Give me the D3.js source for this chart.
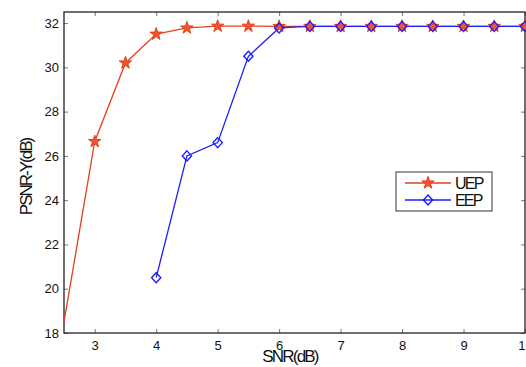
<!DOCTYPE html>
<html>
<head>
<meta charset="utf-8">
<script src="https://cdn.jsdelivr.net/npm/d3@7"></script>
<style>
  body { margin: 0; background: #fff; }
  text { font-family: "Liberation Sans", Arial, sans-serif; fill: #111; }
</style>
</head>
<body>
<svg id="chart" width="526" height="367"></svg>
<script>
// SNR values (dB)
const snr = [2.5, 3, 3.5, 4, 4.5, 5, 5.5, 6, 6.5, 7, 7.5, 8, 8.5, 9, 9.5, 10];
// PSNR-Y for each scheme
const uep = [18.5, 26.65, 30.2, 31.5, 31.78, 31.86, 31.86, 31.85, 31.85, 31.85, 31.85, 31.85, 31.85, 31.85, 31.85, 31.85];
const eepSnr = [4, 4.5, 5, 5.5, 6, 6.5, 7, 7.5, 8, 8.5, 9, 9.5, 10];
const eep = [20.5, 26.0, 26.6, 30.5, 31.78, 31.85, 31.85, 31.85, 31.85, 31.85, 31.85, 31.85, 31.85];
const xTicks = [3, 4, 5, 6, 7, 8, 9, 10];
const yTicks = [18, 20, 22, 24, 26, 28, 30, 32];

const plotL = 64, plotR = 525, plotT = 12, plotB = 333;
const red = "#e5401a", blue = "#1c1cff";

const svg = d3.select("#chart");
const x = d3.scaleLinear().domain([2.5, 10]).range([plotL, plotR]);
const y = d3.scaleLinear().domain([18, 32.5]).range([plotB, plotT]);

svg.append("defs").append("clipPath").attr("id", "plotclip")
  .append("rect").attr("x", plotL).attr("y", plotT)
  .attr("width", plotR - plotL).attr("height", plotB - plotT);

// axes with inward ticks
const tickStyle = (g) => {
  g.select(".domain").remove();
  g.selectAll(".tick line").attr("stroke", "#777").attr("stroke-width", 1);
  g.selectAll(".tick text").attr("font-size", 13).style("font-family", "Liberation Sans, Arial, sans-serif").attr("fill", "#111");
};
svg.append("g").attr("transform", `translate(0,${plotB})`)
  .call(d3.axisBottom(x).tickValues(xTicks).tickSize(-4).tickPadding(8).tickFormat(d3.format("d")))
  .call(tickStyle);
svg.append("g").attr("transform", `translate(0,${plotT})`)
  .call(d3.axisTop(x).tickValues(xTicks).tickSize(-4).tickFormat(""))
  .call(tickStyle);
svg.append("g").attr("transform", `translate(${plotL},0)`)
  .call(d3.axisLeft(y).tickValues(yTicks).tickSize(-4).tickPadding(5))
  .call(tickStyle);
svg.append("g").attr("transform", `translate(${plotR},0)`)
  .call(d3.axisRight(y).tickValues(yTicks).tickSize(-4).tickFormat(""))
  .call(tickStyle);

// frame
svg.append("rect").attr("x", plotL).attr("y", plotT)
  .attr("width", plotR - plotL).attr("height", plotB - plotT)
  .attr("fill", "none").attr("stroke", "#222").attr("stroke-width", 1.3);

const line = d3.line().x(d => x(d[0])).y(d => y(d[1]));
const uepData = snr.map((s, i) => [s, uep[i]]);
const eepData = eepSnr.map((s, i) => [s, eep[i]]);

const plot = svg.append("g").attr("clip-path", "url(#plotclip)");

const star = d3.symbol().type(d3.symbolStar).size(48);
const diamond = "M0,-5L4.6,0L0,5L-4.6,0Z";

plot.append("path").datum(uepData).attr("d", line)
  .attr("fill", "none").attr("stroke", red).attr("stroke-width", 1.3);
svg.selectAll(".uep").data(uepData.filter(d => d[0] > 2.5)).enter()
  .append("path").attr("class", "uep")
  .attr("transform", d => `translate(${x(d[0])},${y(d[1])})`)
  .attr("d", star)
  .attr("fill", "#ee5533").attr("stroke", red).attr("stroke-width", 1);

plot.append("path").datum(eepData).attr("d", line)
  .attr("fill", "none").attr("stroke", blue).attr("stroke-width", 1.3);
svg.selectAll(".eep").data(eepData).enter()
  .append("path").attr("class", "eep")
  .attr("transform", d => `translate(${x(d[0])},${y(d[1])})`)
  .attr("d", diamond)
  .attr("fill", "none").attr("stroke", blue).attr("stroke-width", 1.4);

// axis labels
svg.append("text").attr("x", 290).attr("y", 362)
  .attr("text-anchor", "middle").attr("font-size", 17)
  .attr("letter-spacing", -1.8).text("SNR(dB)");
svg.append("text").attr("transform", "translate(32,177) rotate(-90)")
  .attr("text-anchor", "middle").attr("font-size", 17)
  .attr("letter-spacing", -2).text("PSNR-Y(dB)");

// legend
const lg = svg.append("g").attr("transform", "translate(396,172)");
lg.append("rect").attr("width", 96).attr("height", 39)
  .attr("fill", "#fff").attr("stroke", "#333").attr("stroke-width", 1);
const items = [{ name: "UEP", color: red, sym: "star" }, { name: "EEP", color: blue, sym: "diamond" }];
items.forEach((it, i) => {
  const yy = 11 + i * 17;
  lg.append("line").attr("x1", 9).attr("x2", 55).attr("y1", yy).attr("y2", yy)
    .attr("stroke", it.color).attr("stroke-width", 1.3);
  lg.append("path").attr("transform", `translate(32,${yy})`)
    .attr("d", it.sym === "star" ? star : diamond)
    .attr("fill", it.sym === "star" ? "#ee5533" : "none")
    .attr("stroke", it.color).attr("stroke-width", it.sym === "star" ? 1 : 1.4);
  lg.append("text").attr("x", 59).attr("y", yy + 6).attr("font-size", 16)
    .attr("letter-spacing", -1.8).text(it.name);
});
</script>
</body>
</html>
